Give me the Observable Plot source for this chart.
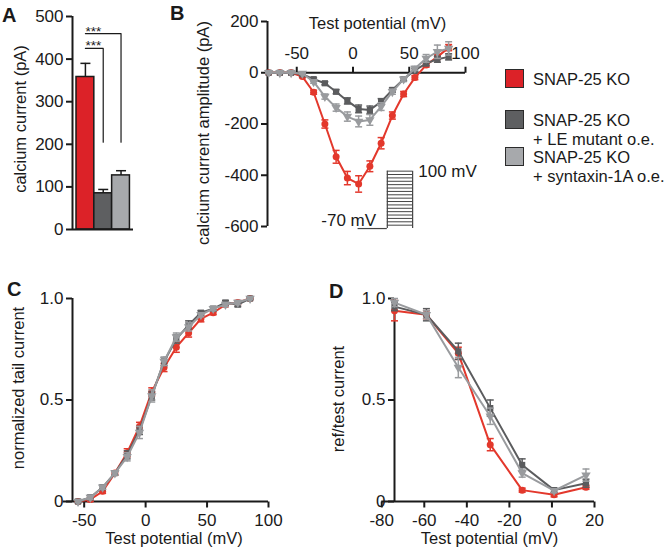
<!DOCTYPE html>
<html>
<head>
<meta charset="utf-8">
<script src="https://cdn.jsdelivr.net/npm/d3@7"></script>
<script src="https://cdn.jsdelivr.net/npm/@observablehq/plot@0.6"></script>
<style>
  html, body { margin: 0; padding: 0; background: #fff; }
  body { width: 669px; height: 552px; position: relative; overflow: hidden;
         font-family: "Liberation Sans", Arial, Helvetica, sans-serif; color: #1a1a1a; }
  .panel { position: absolute; }
  .letter { position: absolute; font-weight: bold; font-size: 20px; line-height: 1; }
  .legend { position: absolute; left: 505px; top: 0; font-size: 16.5px; }
  .sw { position: absolute; width: 17px; height: 17px; border: 1.5px solid #2b2b2b; left: 0; }
  .lt { position: absolute; left: 28px; white-space: nowrap; line-height: 19px; }
</style>
</head>
<body>
<div id="A" class="panel" style="left:0;top:0"></div>
<div id="B" class="panel" style="left:150px;top:0"></div>
<div id="C" class="panel" style="left:0;top:270px"></div>
<div id="D" class="panel" style="left:320px;top:270px"></div>
<div class="letter" style="left:2px;top:5px">A</div>
<div class="letter" style="left:170px;top:3px">B</div>
<div class="letter" style="left:7px;top:279px">C</div>
<div class="letter" style="left:329px;top:281px">D</div>
<div id="legend" class="legend"></div>
<script>
// ---------------- data ----------------
const groups = ["SNAP-25 KO", "SNAP-25 KO + LE mutant o.e.", "SNAP-25 KO + syntaxin-1A o.e."];
const legendLine1 = ["SNAP-25 KO", "SNAP-25 KO", "SNAP-25 KO"];
const legendLine2 = ["", "+ LE mutant o.e.", "+ syntaxin-1A o.e."];
const barColors = ["#dc2228", "#5e5f61", "#a7a9ac"];
const lineColors = ["#e3382c", "#5b5c5e", "#999b9e"];

// Panel A: peak calcium current (pA)
const peakCurrent = [358, 85, 127];
const peakSem = [32, 9, 11];
const sigLabels = ["***", "***"];

// Panel B: I-V relationship
const ivVoltage = [-75, -65, -55, -45, -35, -25, -15, -5, 5, 15, 25, 35, 45, 55, 65, 75, 85];
const ivKO    = [0, 0, 0, -15, -76, -200, -328, -411, -434, -365, -275, -167, -83, -19, 30, 62, 98];
const ivKOsem = [2, 2, 2, 4, 8, 16, 25, 26, 32, 21, 22, 14, 10, 8, 8, 10, 12];
const ivLE    = [0, 0, 0, -6, -25, -41, -74, -110, -141, -145, -113, -67, -25, 10, 36, 53, 62];
const ivLEsem = [2, 2, 2, 3, 5, 6, 8, 12, 15, 15, 12, 8, 6, 6, 8, 12, 12];
const ivSyn    = [0, 0, 0, -3, -35, -93, -136, -171, -190, -184, -132, -74, -25, 17, 56, 82, 95];
const ivSynsem = [2, 2, 2, 3, 6, 10, 14, 18, 21, 21, 15, 10, 8, 8, 15, 26, 26];
const ivXTicks = [-50, 0, 50, 100];
const ivYTicks = [-600, -400, -200, 0, 200];
const protocolSteps = [-70, -60, -50, -40, -30, -20, -10, 0, 10, 20, 30, 40, 50, 60, 70, 80, 90, 100];

// Panel C: normalized tail current (activation)
const tailVoltage = [-55, -45, -35, -25, -15, -5, 5, 15, 25, 35, 45, 55, 65, 75, 85];
const tailKO    = [0, 0.01, 0.05, 0.14, 0.24, 0.37, 0.54, 0.66, 0.76, 0.83, 0.90, 0.93, 0.97, 0.98, 1.0];
const tailKOsem = [0.005, 0.01, 0.01, 0.01, 0.02, 0.02, 0.02, 0.02, 0.025, 0.02, 0.015, 0.01, 0.01, 0.01, 0.005];
const tailLE    = [0, 0.02, 0.07, 0.14, 0.23, 0.35, 0.52, 0.69, 0.80, 0.87, 0.93, 0.95, 0.98, 0.97, 1.0];
const tailLEsem = [0.005, 0.01, 0.01, 0.01, 0.02, 0.02, 0.02, 0.02, 0.02, 0.02, 0.01, 0.01, 0.01, 0.01, 0.005];
const tailSyn    = [0, 0.02, 0.07, 0.14, 0.22, 0.34, 0.52, 0.69, 0.81, 0.86, 0.92, 0.95, 0.97, 0.98, 1.0];
const tailSynsem = [0.005, 0.01, 0.01, 0.01, 0.02, 0.03, 0.03, 0.02, 0.02, 0.02, 0.01, 0.01, 0.01, 0.01, 0.005];
const tailXTicks = [-50, 0, 50, 100];
const normYTicks = [0, 0.5, 1];

// Panel D: inactivation (ref/test current)
const inactVoltage = [-74, -59, -44, -29, -14, 1, 16];
const inactKO    = [0.94, 0.92, 0.73, 0.28, 0.056, 0.033, 0.07];
const inactKOsem = [0.05, 0.02, 0.03, 0.03, 0.01, 0.01, 0.01];
const inactLE    = [0.96, 0.92, 0.74, 0.46, 0.18, 0.056, 0.09];
const inactLEsem = [0.02, 0.03, 0.04, 0.04, 0.03, 0.01, 0.02];
const inactSyn    = [0.98, 0.92, 0.66, 0.42, 0.14, 0.053, 0.13];
const inactSynsem = [0.02, 0.02, 0.05, 0.04, 0.02, 0.01, 0.03];
const inactXTicks = [-80, -60, -40, -20, 0, 20];

// ---------------- helpers ----------------
const FONT = "'Liberation Sans', Arial, Helvetica, sans-serif";
const INK = "#1a1a1a";
const tickUp = {draw(c) { c.moveTo(0, 0); c.lineTo(0, -6); }};
const tickDown = {draw(c) { c.moveTo(0, 0); c.lineTo(0, 6); }};
const capSym = {draw(c) { c.moveTo(-3.5, 0); c.lineTo(3.5, 0); }};
const fmt = d => String(d);
const fmtNorm = d => d === 0 ? "0" : d.toFixed(1);

function series(xs, ys, es) {
  return groups.map((g, i) => xs.map((x, j) => ({group: g, i, x, y: ys[i][j], e: es[i][j]})));
}
const markerSymbols = ["circle", "square", "triangle"];
const markerRotate = [0, 0, 180];

function curveMarks(data) {
  const marks = [];
  data.forEach((s, i) => {
    marks.push(
      Plot.line(s, {x: "x", y: "y", stroke: lineColors[i], strokeWidth: 2}),
      Plot.ruleX(s, {x: "x", y1: d => d.y - d.e, y2: d => d.y + d.e, stroke: lineColors[i], strokeWidth: 1.5}),
      Plot.dot(s, {x: "x", y: d => d.y + d.e, symbol: capSym, stroke: lineColors[i], strokeWidth: 1.5, fill: "none"}),
      Plot.dot(s, {x: "x", y: d => d.y - d.e, symbol: capSym, stroke: lineColors[i], strokeWidth: 1.5, fill: "none"}),
      Plot.dot(s, {x: "x", y: "y", symbol: markerSymbols[i], rotate: markerRotate[i], r: 3.5, fill: lineColors[i], stroke: "none"})
    );
  });
  return marks;
}
function yTitle(text, dx, dy) {
  return Plot.text([text], {frameAnchor: "left", rotate: -90, textAnchor: "middle", lineAnchor: "middle", dx, dy, fontSize: 16.5});
}
const baseStyle = {fontFamily: FONT, fontSize: "17px", color: INK, background: "transparent", overflow: "visible"};

// ---------------- Panel A ----------------
const barData = groups.map((g, i) => ({group: g, i, v: peakCurrent[i], e: peakSem[i]}));
const xMinA = -0.225;
const plotA = Plot.plot({
  width: 150, height: 245,
  marginLeft: 72, marginRight: 17, marginTop: 16, marginBottom: 16,
  style: baseStyle,
  x: {domain: [xMinA, 3.2], axis: null},
  y: {domain: [0, 500], axis: null},
  marks: [
    Plot.rectY(barData, {x1: d => d.i, x2: d => d.i + 1, y1: 0, y2: "v", fill: (d) => barColors[d.i], stroke: "#1a1a1a", strokeWidth: 1.5}),
    Plot.ruleX(barData, {x: d => d.i + 0.5, y1: "v", y2: d => d.v + d.e, stroke: INK, strokeWidth: 1.5}),
    Plot.dot(barData, {x: d => d.i + 0.5, y: d => d.v + d.e, symbol: {draw(c){c.moveTo(-5,0);c.lineTo(5,0);}}, stroke: INK, strokeWidth: 1.5}),
    // significance brackets (KO vs syntaxin, KO vs LE)
    Plot.line([[0.5, 460], [2.5, 460], [2.5, 205]], {stroke: INK, strokeWidth: 1.2}),
    Plot.line([[0.5, 425], [1.5, 425], [1.5, 205]], {stroke: INK, strokeWidth: 1.2}),
    Plot.text([sigLabels[0]], {x: 0.5, y: 460, textAnchor: "start", lineAnchor: "bottom", dy: 2, fontSize: 13.5, letterSpacing: "3.5px"}),
    Plot.text([sigLabels[1]], {x: 0.5, y: 425, textAnchor: "start", lineAnchor: "bottom", dy: 2, fontSize: 13.5, letterSpacing: "3.5px"}),
    Plot.ruleX([xMinA], {stroke: INK, strokeWidth: 2}),
    Plot.ruleY([0], {stroke: INK, strokeWidth: 2}),
    Plot.axisY({ticks: [0, 100, 200, 300, 400, 500], tickFormat: fmt, tickSize: 6, tickPadding: 3, strokeWidth: 2, fontSize: 17, label: null}),
    yTitle("calcium current (pA)", -52, -4)
  ]
});
document.getElementById("A").appendChild(plotA);

// ---------------- Panel B ----------------
const ivData = series(ivVoltage, [ivKO, ivLE, ivSyn], [ivKOsem, ivLEsem, ivSynsem]);
const xMinB = -76;
const protoLevel = v => -608 + (v + 70) / 170 * 224;
const plotB = Plot.plot({
  width: 330, height: 250,
  marginLeft: 117, marginRight: 15, marginTop: 21, marginBottom: 24,
  style: baseStyle,
  x: {domain: [xMinB, 100], axis: null},
  y: {domain: [-600, 200], axis: null},
  marks: [
    // voltage-step protocol schematic
    Plot.ruleY([-70], {y: protoLevel, x1: 4.5, x2: 30.5, stroke: "#444", strokeWidth: 1.2}),
    Plot.ruleY(protocolSteps.slice(1), {y: protoLevel, x1: 30.5, x2: 53, stroke: "#444", strokeWidth: 1}),
    Plot.ruleX([30.5, 53], {y1: protoLevel(-70), y2: protoLevel(100), stroke: "#444", strokeWidth: 1.2}),
    Plot.text(["100 mV"], {x: 58, y: protoLevel(100), textAnchor: "start", fontSize: 17}),
    Plot.text(["-70 mV"], {x: 20.5, y: -578, textAnchor: "end", fontSize: 17}),
    Plot.ruleX([xMinB], {stroke: INK, strokeWidth: 2}),
    Plot.ruleY([0], {stroke: INK, strokeWidth: 2}),
    Plot.dot(ivXTicks, {x: d => d, y: 0, symbol: tickUp, stroke: INK, strokeWidth: 2}),
    Plot.text(ivXTicks, {x: d => d, y: 0, text: fmt, dy: -19, fontSize: 17}),
    Plot.axisY({ticks: ivYTicks, tickFormat: fmt, tickSize: 6, tickPadding: 3, strokeWidth: 2, fontSize: 17, label: null}),
    ...curveMarks(ivData),
    Plot.text(["Test potential (mV)"], {frameAnchor: "top", lineAnchor: "middle", dx: 11, dy: 2, fontSize: 16.5}),
    yTitle("calcium current amplitude (pA)", -64, 9)
  ]
});
document.getElementById("B").appendChild(plotB);

// ---------------- Panel C ----------------
const tailData = series(tailVoltage, [tailKO, tailLE, tailSyn], [tailKOsem, tailLEsem, tailSynsem]);
const xMinC = -59.5;
const plotC = Plot.plot({
  width: 310, height: 282,
  marginLeft: 72, marginRight: 42, marginTop: 28, marginBottom: 51,
  style: baseStyle,
  x: {domain: [xMinC, 100], axis: null},
  y: {domain: [0, 1], axis: null},
  marks: [
    Plot.ruleX([xMinC], {stroke: INK, strokeWidth: 2}),
    Plot.ruleY([0], {x1: -67, x2: 100, stroke: INK, strokeWidth: 2}),
    Plot.dot(tailXTicks, {x: d => d, y: 0, symbol: tickDown, stroke: INK, strokeWidth: 2}),
    Plot.text(tailXTicks, {x: d => d, y: 0, text: fmt, dy: 19, fontSize: 17}),
    Plot.axisY({ticks: normYTicks, tickFormat: fmtNorm, tickSize: 6, tickPadding: 3, strokeWidth: 2, fontSize: 17, label: null}),
    ...curveMarks(tailData),
    Plot.text(["Test potential (mV)"], {frameAnchor: "bottom", lineAnchor: "middle", dx: 3.5, dy: 37, fontSize: 16.5}),
    yTitle("normalized tail current", -54, -12)
  ]
});
document.getElementById("C").appendChild(plotC);

// ---------------- Panel D ----------------
const inactData = series(inactVoltage, [inactKO, inactLE, inactSyn], [inactKOsem, inactLEsem, inactSynsem]);
const xMinD = -74;
const plotD = Plot.plot({
  width: 349, height: 282,
  marginLeft: 74, marginRight: 75, marginTop: 28, marginBottom: 51,
  style: baseStyle,
  x: {domain: [xMinD, 20], axis: null},
  y: {domain: [0, 1], axis: null},
  marks: [
    Plot.ruleX([xMinD], {stroke: INK, strokeWidth: 2}),
    Plot.ruleY([0], {x1: -80, x2: 20, stroke: INK, strokeWidth: 2}),
    Plot.dot(inactXTicks, {x: d => d, y: 0, symbol: tickDown, stroke: INK, strokeWidth: 2}),
    Plot.text(inactXTicks, {x: d => d, y: 0, text: fmt, dy: 19, fontSize: 17}),
    Plot.axisY({ticks: normYTicks, tickFormat: fmtNorm, tickSize: 6, tickPadding: 3, strokeWidth: 2, fontSize: 17, label: null}),
    ...curveMarks(inactData),
    Plot.text(["Test potential (mV)"], {frameAnchor: "bottom", lineAnchor: "middle", dx: -5, dy: 37, fontSize: 16.5}),
    yTitle("ref/test current", -56, -1)
  ]
});
document.getElementById("D").appendChild(plotD);

// ---------------- Legend ----------------
const legendTops = [69, 110, 147];
const legend = document.getElementById("legend");
groups.forEach((g, i) => {
  const sw = document.createElement("div");
  sw.className = "sw";
  sw.style.top = legendTops[i] + "px";
  sw.style.background = barColors[i];
  legend.appendChild(sw);
  const t1 = document.createElement("div");
  t1.className = "lt";
  t1.style.top = (legendTops[i] + 0.5) + "px";
  t1.textContent = legendLine1[i];
  legend.appendChild(t1);
  if (legendLine2[i]) {
    const t2 = document.createElement("div");
    t2.className = "lt";
    t2.style.top = (legendTops[i] + 20) + "px";
    t2.textContent = legendLine2[i];
    legend.appendChild(t2);
  }
});
</script>
</body>
</html>
